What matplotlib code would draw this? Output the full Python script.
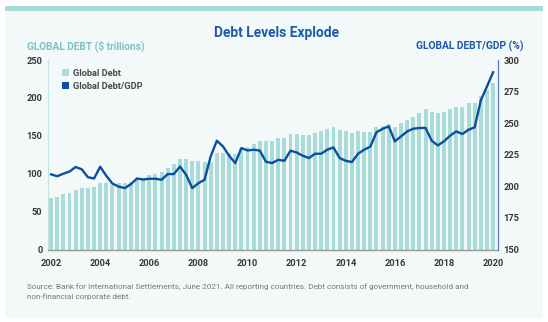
import numpy as np
import matplotlib
matplotlib.use("Agg")
import matplotlib.pyplot as plt
from matplotlib.patches import Patch, Rectangle
from matplotlib import font_manager

# Quarterly observations, end of 2002 through end of 2020
year_labels = [str(y) for y in range(2002, 2021, 2)]

global_debt = [
    68.3, 69.7, 72.8, 75.0, 78.5, 81.0, 81.0, 83.0,
    88.0, 87.3, 85.0, 87.3, 87.3, 89.5, 94.0, 94.7,
    98.0, 99.6, 102.7, 108.0, 112.4, 119.2, 120.0, 116.3,
    117.2, 115.6, 116.0, 127.0, 127.5, 127.5, 126.5, 133.0,
    135.5, 139.0, 143.0, 143.5, 143.5, 147.0, 146.7, 152.0,
    152.5, 151.0, 151.0, 154.3, 155.8, 158.8, 162.2, 157.8,
    155.8, 153.3, 156.0, 155.0, 155.5, 162.0, 163.3, 165.1,
    161.2, 166.5, 170.8, 175.2, 179.8, 185.5, 181.1, 179.8,
    181.8, 185.5, 188.4, 187.6, 192.9, 192.9, 203.0, 210.4,
    220.0,
]

debt_to_gdp = [
    209.5, 208.0, 210.0, 211.7, 215.3, 213.5, 207.2, 206.2,
    215.5, 208.3, 202.2, 199.8, 198.6, 201.7, 206.2, 205.4,
    206.0, 206.0, 205.2, 209.7, 209.7, 215.7, 209.1, 198.6,
    202.5, 205.2, 223.7, 236.1, 231.6, 224.2, 218.4, 230.3,
    228.4, 229.0, 228.3, 219.5, 218.4, 221.0, 220.2, 228.2,
    226.8, 224.2, 222.4, 225.8, 225.8, 229.0, 230.8, 222.4,
    220.2, 219.2, 225.8, 229.0, 231.4, 242.8, 245.5, 247.5,
    235.6, 239.5, 243.5, 245.6, 246.2, 246.2, 236.1, 232.4,
    235.6, 240.1, 243.5, 241.4, 244.8, 246.7, 268.1, 279.0,
    290.3,
]

W, H = 548, 322

installed = {f.name for f in font_manager.fontManager.ttflist}
if "Liberation Sans Narrow" in installed:
    NARROW, NSCALE = "Liberation Sans Narrow", 1.0
else:
    NARROW, NSCALE = "Roboto", 0.86

BAR_C = "#a9dcd9"
LINE_C = "#0b4f9f"
TEAL_TXT = "#7cc3c0"
NAVY_TXT = "#1a5aa8"
TICK_C = "#383838"
SRC_C = "#7a7a7a"


def fx(px):
    return px / W


def fy(py):
    return 1 - py / H


fig = plt.figure(figsize=(W / 100, H / 100), dpi=100)
fig.patch.set_facecolor("white")

# panel background and top accent band, kept beneath the axes
fig.patches.append(Rectangle((fx(5), fy(318)), fx(538), (318 - 6) / H,
                             transform=fig.transFigure, facecolor="#f3f8f8",
                             edgecolor="none", zorder=-5))
fig.patches.append(Rectangle((fx(5), fy(10.5)), fx(538), 4.5 / H,
                             transform=fig.transFigure, facecolor="#a8dad7",
                             edgecolor="none", zorder=-4))

left_px, right_px, top_px, bot_px = 48.3, 497.7, 60.0, 249.5
ax = fig.add_axes([fx(left_px), fy(bot_px), fx(right_px - left_px),
                   (bot_px - top_px) / H])
ax.set_facecolor("none")

x = np.arange(len(global_debt))
ax.bar(x, global_debt, width=0.64, color=BAR_C, zorder=2, linewidth=0)
ax.set_xlim(-0.45, 72.75)
ax.set_ylim(0, 250)
ax.set_yticks(np.arange(0, 251, 50))
ax.set_xticks(x[::8])
ax.set_xticklabels(year_labels)

ax2 = ax.twinx()
ax2.plot(x, debt_to_gdp, color=LINE_C, lw=1.7, zorder=3,
         solid_joinstyle="round")
ax2.set_ylim(150, 300)
ax2.set_yticks(np.arange(150, 301, 25))

for a in (ax, ax2):
    a.spines["top"].set_visible(False)
ax2.spines["left"].set_visible(False)
ax2.spines["bottom"].set_visible(False)
ax.spines["right"].set_visible(False)
ax.spines["left"].set_color("#c5e3e1")
ax.spines["left"].set_linewidth(0.8)
ax.spines["bottom"].set_color("#9a9a9a")
ax.spines["bottom"].set_linewidth(1.0)
ax2.spines["right"].set_color("#4f7fc0")
ax2.spines["right"].set_linewidth(0.9)

tick_font = dict(family=[NARROW, "DejaVu Sans"], weight="bold",
                 size=7.8 * NSCALE)
ax.tick_params(axis="both", length=0, colors=TICK_C)
ax.tick_params(axis="y", pad=4.2)
ax.tick_params(axis="x", pad=6.5)
ax2.tick_params(axis="y", length=0, colors=TICK_C, pad=4.2)
for lab in ax.get_xticklabels() + ax.get_yticklabels() + ax2.get_yticklabels():
    lab.set_fontproperties(font_manager.FontProperties(**tick_font))
    lab.set_color(TICK_C)

# legend
handles = [Patch(facecolor=BAR_C, edgecolor="none", label="Global Debt"),
           Patch(facecolor=LINE_C, edgecolor="none", label="Global Debt/GDP")]
leg = ax.legend(handles=handles, loc="upper left",
                bbox_to_anchor=((62 - left_px) / (right_px - left_px),
                                1 - (69 - top_px) / (bot_px - top_px)),
                frameon=False, handlelength=0.75, handleheight=0.75,
                handletextpad=0.45, labelspacing=0.4, borderpad=0,
                borderaxespad=0,
                prop=font_manager.FontProperties(family=[NARROW, "DejaVu Sans"],
                                                 weight="bold",
                                                 size=7.8 * NSCALE))
for t in leg.get_texts():
    t.set_color("#4a4a4a")

# titles
fig.text(fx(277), fy(33), "Debt Levels Explode", ha="center", va="center",
         family=["Roboto", "DejaVu Sans"], weight="bold", size=9.9,
         color=NAVY_TXT)
fig.text(fx(27), fy(46), "GLOBAL DEBT ($ trillions)", ha="left", va="center",
         family=[NARROW, "DejaVu Sans"], weight="bold", size=8.5 * NSCALE,
         color=TEAL_TXT)
fig.text(fx(523), fy(46), "GLOBAL DEBT/GDP (%)", ha="right", va="center",
         family=[NARROW, "DejaVu Sans"], weight="bold", size=8.6 * NSCALE,
         color=NAVY_TXT)

source = ("Source: Bank for International Settlements, June 2021. All reporting "
          "countries. Debt consists of government, household and\n"
          "non-financial corporate debt.")
fig.text(fx(27), fy(283.5), source, ha="left", va="top",
         family=[NARROW, "DejaVu Sans"], size=6.85 * NSCALE, color=SRC_C,
         linespacing=1.5)

fig.savefig("out.png", dpi=100, facecolor=fig.get_facecolor())
